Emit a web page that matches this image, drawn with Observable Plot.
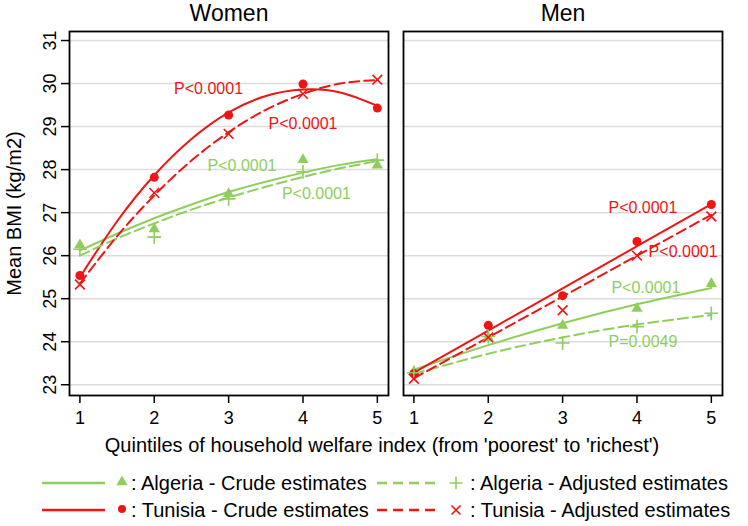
<!DOCTYPE html>
<html>
<head>
<meta charset="utf-8">
<script src="https://cdn.jsdelivr.net/npm/d3@7"></script>
<script src="https://cdn.jsdelivr.net/npm/@observablehq/plot@0.6"></script>
<style>
  html, body { margin: 0; padding: 0; background: #fff; }
  #wrap { position: relative; width: 748px; height: 526px; font-family: "Liberation Sans", Arial, sans-serif; }
  #chart { position: absolute; left: 0; top: 0; }
  #xlabel { position: absolute; left: 0; width: 764px; top: 434px; text-align: center; font-size: 20px; color: #000; }
  #legend { position: absolute; left: 0; top: 465px; }
</style>
</head>
<body>
<div id="wrap">
  <div id="chart"></div>
  <div id="xlabel"></div>
  <div id="legend"></div>
</div>
<script>
// ---------- data ----------
const panels = ["Women", "Men"];
const quintiles = [1, 2, 3, 4, 5];
const xTicks = [1, 2, 3, 4, 5];
const yTicks = [23, 24, 25, 26, 27, 28, 29, 30, 31];
const yLabel = "Mean BMI (kg/m2)";
const xLabel = "Quintiles of household welfare index (from 'poorest' to 'richest')";

// observed estimates
const womenAlgeriaCrude    = [26.25, 26.62, 27.44, 28.23, 28.10];
const womenAlgeriaAdjusted = [26.15, 26.43, 27.32, 27.95, 28.22];
const womenTunisiaCrude    = [25.54, 27.82, 29.27, 29.99, 29.43];
const womenTunisiaAdjusted = [25.33, 27.46, 28.83, 29.76, 30.09];
const menAlgeriaCrude      = [23.30, 24.10, 24.38, 24.77, 25.35];
const menAlgeriaAdjusted   = [23.28, 24.12, 23.97, 24.35, 24.66];
const menTunisiaCrude      = [23.26, 24.38, 25.07, 26.33, 27.19];
const menTunisiaAdjusted   = [23.14, 24.10, 24.73, 26.00, 26.91];

// fitted curves
const fitX = [1, 1.5, 2, 2.5, 3, 3.5, 4, 4.5, 5];
const womenAlgeriaCrudeFit    = [26.12, 26.51, 26.87, 27.19, 27.48, 27.72, 27.93, 28.11, 28.24];
const womenAlgeriaAdjustedFit = [26.00, 26.40, 26.75, 27.07, 27.35, 27.60, 27.83, 28.03, 28.20];
const womenTunisiaCrudeFit    = [25.50, 26.80, 27.87, 28.71, 29.33, 29.71, 29.86, 29.79, 29.48];
const womenTunisiaAdjustedFit = [25.35, 26.45, 27.40, 28.21, 28.87, 29.39, 29.76, 30.00, 30.08];
const menFitX = [1, 2, 3, 4, 5];
const menAlgeriaCrudeFit      = [23.35, 23.92, 24.43, 24.87, 25.25];
const menAlgeriaAdjustedFit   = [23.25, 23.72, 24.10, 24.40, 24.62];
const menTunisiaCrudeFit      = [23.28, 24.26, 25.24, 26.22, 27.20];
const menTunisiaAdjustedFit   = [23.15, 24.10, 25.05, 26.00, 26.95];

// p-value labels
const pPanel   = ["Women", "Women", "Women", "Women", "Men", "Men", "Men", "Men"];
const pCountry = ["Tunisia", "Tunisia", "Algeria", "Algeria", "Tunisia", "Tunisia", "Algeria", "Algeria"];
const pText    = ["P<0.0001", "P<0.0001", "P<0.0001", "P<0.0001", "P<0.0001", "P<0.0001", "P<0.0001", "P=0.0049"];
const pX       = [2.73, 4.00, 3.18, 4.18, 4.08, 4.62, 4.12, 4.08];
const pY       = [29.88, 29.07, 28.08, 27.44, 27.11, 26.08, 25.25, 23.99];

const countries = ["Algeria", "Tunisia"];
const colors = ["#8fce5c", "#f01414"];
const legendText = [
  [": Algeria - Crude estimates", ": Algeria - Adjusted estimates"],
  [": Tunisia - Crude estimates", ": Tunisia - Adjusted estimates"]
];

// ---------- tables ----------
function pts(panel, country, type, xs, ys) {
  return ys.map((y, i) => ({panel, country, type, x: xs[i], y}));
}
const observed = [
  ...pts("Women", "Algeria", "crude", quintiles, womenAlgeriaCrude),
  ...pts("Women", "Algeria", "adjusted", quintiles, womenAlgeriaAdjusted),
  ...pts("Women", "Tunisia", "crude", quintiles, womenTunisiaCrude),
  ...pts("Women", "Tunisia", "adjusted", quintiles, womenTunisiaAdjusted),
  ...pts("Men", "Algeria", "crude", quintiles, menAlgeriaCrude),
  ...pts("Men", "Algeria", "adjusted", quintiles, menAlgeriaAdjusted),
  ...pts("Men", "Tunisia", "crude", quintiles, menTunisiaCrude),
  ...pts("Men", "Tunisia", "adjusted", quintiles, menTunisiaAdjusted)
];
const fits = [
  ...pts("Women", "Algeria", "crude", fitX, womenAlgeriaCrudeFit),
  ...pts("Women", "Algeria", "adjusted", fitX, womenAlgeriaAdjustedFit),
  ...pts("Women", "Tunisia", "crude", fitX, womenTunisiaCrudeFit),
  ...pts("Women", "Tunisia", "adjusted", fitX, womenTunisiaAdjustedFit),
  ...pts("Men", "Algeria", "crude", menFitX, menAlgeriaCrudeFit),
  ...pts("Men", "Algeria", "adjusted", menFitX, menAlgeriaAdjustedFit),
  ...pts("Men", "Tunisia", "crude", menFitX, menTunisiaCrudeFit),
  ...pts("Men", "Tunisia", "adjusted", menFitX, menTunisiaAdjustedFit)
];
const pLabels = pText.map((t, i) => ({panel: pPanel[i], country: pCountry[i], text: t, x: pX[i], y: pY[i]}));

const sel = (c, t) => observed.filter(d => d.country === c && d.type === t);
const lineStyle = {x: "x", y: "y", z: "country", fx: "panel", stroke: "country", strokeWidth: 2, curve: "natural"};

const chart = Plot.plot({
  width: 748,
  height: 430,
  marginLeft: 68,
  marginRight: 26,
  marginTop: 31,
  marginBottom: 35,
  style: {fontFamily: "'Liberation Sans', Arial, sans-serif", fontSize: "20px", color: "#000", background: "#fff"},
  fx: {domain: panels, paddingInner: 0.045, paddingOuter: 0, label: null},
  x: {domain: [0.86, 5.15]},
  y: {domain: [22.75, 31.21]},
  color: {domain: countries, range: colors},
  marks: [
    Plot.gridY(yTicks, {stroke: "#dcdcdc", strokeOpacity: 1, strokeWidth: 1.5}),
    Plot.axisFx({anchor: "top", label: null, tickSize: 0, tickPadding: 11, fontSize: 23}),
    Plot.axisX({ticks: xTicks, tickFormat: "d", tickSize: 8, tickPadding: 8, fontSize: 18, label: null, strokeWidth: 1.5}),
    Plot.axisY({ticks: yTicks, tickFormat: "d", tickSize: 8, tickRotate: -90, tickPadding: 6, fontSize: 18,
      label: null, strokeWidth: 1.5}),
    Plot.axisY({ticks: [], tickSize: 0, label: yLabel, labelAnchor: "center", labelOffset: 63, labelArrow: "none"}),
    Plot.line(fits.filter(d => d.type === "crude"), lineStyle),
    Plot.line(fits.filter(d => d.type === "adjusted"), {...lineStyle, strokeDasharray: "10,5"}),
    Plot.dot(sel("Algeria", "crude"), {x: "x", y: "y", fx: "panel", symbol: "triangle", fill: "country", r: 4.2}),
    Plot.dot(sel("Tunisia", "crude"), {x: "x", y: "y", fx: "panel", symbol: "circle", fill: "country", r: 4.5}),
    Plot.dot(sel("Algeria", "adjusted"), {x: "x", y: "y", fx: "panel", symbol: "plus", stroke: "country", strokeWidth: 1.6, r: 4.5}),
    Plot.dot(sel("Tunisia", "adjusted"), {x: "x", y: "y", fx: "panel", symbol: "times", stroke: "country", strokeWidth: 1.6, r: 4.5}),
    Plot.text(pLabels, {x: "x", y: "y", fx: "panel", text: "text", fill: "country", fontSize: 16}),
    Plot.frame({stroke: "#000", strokeWidth: 1.8})
  ]
});
document.getElementById("chart").appendChild(chart);
document.getElementById("xlabel").textContent = xLabel;

// ---------- legend ----------
const lg = d3.select("#legend").append("svg").attr("width", 748).attr("height", 60)
  .style("font-family", "'Liberation Sans', Arial, sans-serif");
const rowsY = [18, 45];
const symbols = [[d3.symbolTriangle, d3.symbolPlus], [d3.symbolCircle, d3.symbolTimes]];
countries.forEach((c, i) => {
  const y = rowsY[i];
  const col = colors[i];
  // crude
  lg.append("line").attr("x1", 42).attr("x2", 105).attr("y1", y).attr("y2", y).attr("stroke", col).attr("stroke-width", 2.5);
  lg.append("path").attr("d", d3.symbol(symbols[i][0], i === 0 ? 55 : 50)()).attr("transform", `translate(122,${y - 1})`).attr("fill", col);
  lg.append("text").attr("x", 131).attr("y", y).attr("dy", "0.35em").attr("font-size", 20).text(legendText[i][0]);
  // adjusted
  lg.append("line").attr("x1", 377).attr("x2", 441).attr("y1", y).attr("y2", y).attr("stroke", col).attr("stroke-width", 2.5).attr("stroke-dasharray", "10,6");
  lg.append("path").attr("d", d3.symbol(symbols[i][1], 55)()).attr("transform", `translate(456,${y})`).attr("fill", "none").attr("stroke", col).attr("stroke-width", 1.6);
  lg.append("text").attr("x", 470).attr("y", y).attr("dy", "0.35em").attr("font-size", 20).text(legendText[i][1]);
});
</script>
</body>
</html>
